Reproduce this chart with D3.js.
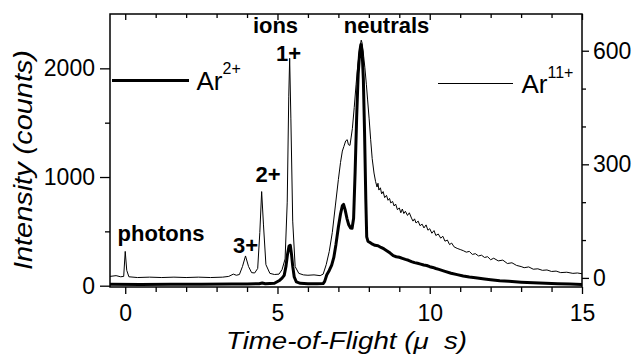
<!DOCTYPE html>
<html>
<head>
<meta charset="utf-8">
<script src="https://cdn.jsdelivr.net/npm/d3@7"></script>
<style>
  html, body { margin: 0; padding: 0; background: #fff; }
  svg { display: block; font-family: "Liberation Sans", Arial, Helvetica, sans-serif; }
  .axis path, .axis line { stroke: #000; stroke-width: 1.3; }
  .axis text { font-size: 23px; fill: #000; }
  .note { font-size: 22px; font-weight: bold; }
</style>
</head>
<body>
<svg id="chart" width="636" height="358"></svg>
<script>
// Ar2+ spectrum (left axis, counts)
const ar2Time = [-0.5, 0.5, 1.5, 2.5, 3.5, 4.0, 4.4, 4.5, 4.6, 4.9, 5.05, 5.15, 5.22, 5.28, 5.33, 5.38, 5.42, 5.46, 5.5, 5.55, 5.62, 5.75,
  6.0, 6.3, 6.5, 6.55, 6.62, 6.7, 6.78, 6.85, 6.92, 7.0, 7.07, 7.13, 7.17, 7.22, 7.28, 7.34, 7.4, 7.45, 7.5, 7.55, 7.6, 7.65, 7.7,
  7.74, 7.78, 7.82, 7.86, 7.9, 7.93, 7.97, 8.05, 8.12, 8.2, 8.3, 8.4, 8.5, 8.6, 8.7, 8.8, 8.9, 9.0, 9.1, 9.2, 9.3, 9.4, 9.5, 9.6,
  9.7, 9.8, 9.9, 10.0, 10.1, 10.2, 10.3, 10.5, 10.7, 10.9, 11.1, 11.3, 11.5, 11.8, 12.0, 12.3, 12.6, 13.0, 13.4, 13.8, 14.2, 14.6, 15.0];
const ar2Counts = [14, 12, 13, 14, 16, 16, 18, 24, 18, 22, 45, 70, 95, 180, 290, 365, 372, 290, 180, 80, 35, 22,
  18, 18, 20, 40, 100, 140, 190, 260, 380, 540, 660, 735, 748, 700, 620, 560, 530, 528, 620, 1050, 1550, 1950, 2150,
  2220, 2150, 1900, 1400, 800, 450, 410, 395, 382, 372, 368, 352, 338, 320, 300, 276, 266, 262, 252, 242, 234, 222, 212, 206,
  198, 190, 186, 175, 168, 158, 150, 132, 115, 102, 90, 80, 74, 62, 55, 46, 40, 32, 26, 22, 18, 15, 12];

// Ar11+ spectrum (right axis, counts)
const ar11Time = [-0.5, -0.3, -0.15, -0.05, 0, 0.05, 0.12, 0.4, 0.8, 1.2, 1.6, 2.0, 2.4, 2.8, 3.2, 3.4, 3.55, 3.65, 3.75, 3.85,
  3.95, 4.05, 4.15, 4.25, 4.35, 4.42, 4.48, 4.54, 4.62, 4.75, 4.9, 5.05, 5.15, 5.25, 5.32, 5.37, 5.4, 5.44, 5.5, 5.58, 5.7, 5.85,
  6.0, 6.2, 6.4, 6.5, 6.6, 6.7, 6.8, 6.9, 7.0, 7.07, 7.13, 7.18, 7.24, 7.29, 7.33, 7.38, 7.42, 7.46, 7.52, 7.58, 7.64, 7.68, 7.72,
  7.75, 7.78, 7.83, 7.87, 7.92, 7.96, 8.01, 8.06, 8.11, 8.17, 8.22, 8.27, 8.3, 8.33, 8.38, 8.42, 8.47, 8.52, 8.58, 8.63, 8.68,
  8.72, 8.78, 8.83, 8.88, 8.94, 9.0, 9.05, 9.1, 9.15, 9.2, 9.27, 9.33, 9.4, 9.45, 9.5, 9.55, 9.62, 9.68, 9.75, 9.81, 9.88, 9.94,
  10.0, 10.07, 10.14, 10.2, 10.28, 10.36, 10.43, 10.5, 10.58, 10.65, 10.72, 10.8, 10.9, 11.0, 11.1, 11.2, 11.3, 11.4, 11.5, 11.6,
  11.7, 11.8, 11.9, 12.0, 12.1, 12.25, 12.4, 12.55, 12.7, 12.85, 13.0, 13.1, 13.25, 13.4, 13.55, 13.7, 13.85, 14.0, 14.15, 14.3,
  14.5, 14.7, 14.85, 15.0];
const ar11Counts = [4, 6, 3, 4, 70, 20, 3, 1, 2, 1, 2, 1, 2, 1, 2, 4, 10, 7, 9, 30,
  58, 30, 14, 13, 25, 120, 228, 140, 35, 12, 9, 10, 22, 50, 200, 480, 580, 420, 150, 30, 12, 8,
  7, 8, 6, 10, 35, 70, 120, 190, 260, 305, 335, 347, 362, 365, 352, 350, 372, 395, 450, 510, 565, 590, 615,
  628, 620, 585, 555, 510, 470, 420, 365, 315, 277, 255, 240, 250, 232, 238, 222, 228, 212, 218, 205, 210,
  198, 202, 190, 195, 180, 185, 172, 182, 170, 176, 165, 172, 158, 150, 156, 145, 150, 138, 142, 132, 140, 126,
  130, 118, 125, 112, 116, 105, 110, 97, 100, 88, 92, 82, 78, 75, 72, 68, 70, 62, 64, 58,
  60, 54, 56, 48, 52, 45, 47, 38, 40, 33, 30, 27, 29, 23, 24, 20, 21, 17, 18, 14,
  15, 12, 13, 11];

const xMajor = [0, 5, 10, 15];
const xMinor = [1, 2, 3, 4, 6, 7, 8, 9, 11, 12, 13, 14];
const leftMajor = [0, 1000, 2000];
const leftMinor = [500, 1500];
const rightMajor = [0, 300, 600];
const rightMinor = [100, 200, 400, 500];

const plot = { left: 110, right: 582, top: 14, bottom: 287 };

const svg = d3.select("#chart");

const x = d3.scaleLinear().domain([-0.5, 15]).range([plot.left, plot.right]);
const yL = d3.scaleLinear().domain([-12, 2500]).range([plot.bottom, plot.top]);
const yR = d3.scaleLinear().domain([-24, 697]).range([plot.bottom, plot.top]);

svg.append("clipPath").attr("id", "plotClip")
  .append("rect")
  .attr("x", plot.left).attr("y", plot.top)
  .attr("width", plot.right - plot.left).attr("height", plot.bottom - plot.top);

// spectra
const thinLine = d3.line().x(d => x(d[0])).y(d => yR(d[1]));
const thickLine = d3.line().x(d => x(d[0])).y(d => yL(d[1]));

svg.append("path")
  .attr("clip-path", "url(#plotClip)")
  .attr("d", thinLine(d3.zip(ar11Time, ar11Counts)))
  .attr("fill", "none").attr("stroke", "#000").attr("stroke-width", 1)
  .attr("stroke-linejoin", "round");

svg.append("path")
  .attr("clip-path", "url(#plotClip)")
  .attr("d", thickLine(d3.zip(ar2Time, ar2Counts)))
  .attr("fill", "none").attr("stroke", "#000").attr("stroke-width", 3)
  .attr("stroke-linejoin", "round");

// axes
const fmt = d3.format("d");
svg.append("g").attr("class", "axis").attr("transform", `translate(0,${plot.bottom})`)
  .call(d3.axisBottom(x).tickValues(xMajor).tickSize(7).tickPadding(11).tickFormat(fmt));
svg.append("g").attr("class", "axis").attr("transform", `translate(0,${plot.bottom})`)
  .call(d3.axisBottom(x).tickValues(xMinor).tickSize(5).tickFormat(""));
svg.append("g").attr("class", "axis").attr("transform", `translate(0,${plot.top})`)
  .call(d3.axisTop(x).tickValues(xMajor).tickSize(-6).tickFormat(""));
svg.append("g").attr("class", "axis").attr("transform", `translate(0,${plot.top})`)
  .call(d3.axisTop(x).tickValues(xMinor).tickSize(-4).tickFormat(""));

svg.append("g").attr("class", "axis").attr("transform", `translate(${plot.left},0)`)
  .call(d3.axisLeft(yL).tickValues(leftMajor).tickSize(10).tickPadding(5).tickFormat(fmt));
svg.append("g").attr("class", "axis").attr("transform", `translate(${plot.left},0)`)
  .call(d3.axisLeft(yL).tickValues(leftMinor).tickSize(5).tickFormat(""));

svg.append("g").attr("class", "axis").attr("transform", `translate(${plot.right},0)`)
  .call(d3.axisRight(yR).tickValues(rightMajor).tickSize(7).tickPadding(4).tickFormat(fmt));
svg.append("g").attr("class", "axis").attr("transform", `translate(${plot.right},0)`)
  .call(d3.axisRight(yR).tickValues(rightMinor).tickSize(4).tickFormat(""));

svg.selectAll(".axis .domain").remove();

// frame
svg.append("rect")
  .attr("x", plot.left).attr("y", plot.top)
  .attr("width", plot.right - plot.left).attr("height", plot.bottom - plot.top)
  .attr("fill", "none").attr("stroke", "#000").attr("stroke-width", 1.5);

// axis titles
svg.append("text")
  .attr("x", 226).attr("y", 349)
  .attr("font-size", 23).attr("font-style", "italic")
  .attr("textLength", 241).attr("lengthAdjust", "spacingAndGlyphs")
  .style("white-space", "pre")
  .text("Time-of-Flight (\u03bc  s)");

svg.append("text")
  .attr("transform", "translate(32,270) rotate(-90)")
  .attr("font-size", 26).attr("font-style", "italic")
  .attr("textLength", 220).attr("lengthAdjust", "spacingAndGlyphs")
  .text("Intensity (counts)");

// peak labels
const notes = [
  { text: "photons", px: 161, py: 241 },
  { text: "3+", px: 245.5, py: 252.5 },
  { text: "2+", px: 268, py: 181.5 },
  { text: "1+", px: 288.5, py: 61 },
  { text: "ions", px: 275.5, py: 33 },
  { text: "neutrals", px: 386.5, py: 33 }
];
svg.selectAll("text.note").data(notes).enter().append("text")
  .attr("class", "note")
  .attr("x", d => d.px).attr("y", d => d.py)
  .attr("text-anchor", "middle")
  .text(d => d.text);

// legend
svg.append("line")
  .attr("x1", 112).attr("x2", 189).attr("y1", 80.5).attr("y2", 80.5)
  .attr("stroke", "#000").attr("stroke-width", 3);
const lg1 = svg.append("text").attr("x", 196.5).attr("y", 89.5).attr("font-size", 26);
lg1.append("tspan").text("Ar");
lg1.append("tspan").attr("dy", -16).attr("font-size", 16).text("2+");

svg.append("line")
  .attr("x1", 438).attr("x2", 513).attr("y1", 83.5).attr("y2", 83.5)
  .attr("stroke", "#000").attr("stroke-width", 1);
const lg2 = svg.append("text").attr("x", 521.5).attr("y", 93).attr("font-size", 26);
lg2.append("tspan").text("Ar");
lg2.append("tspan").attr("dy", -15).attr("font-size", 16).text("11+");
</script>
</body>
</html>
